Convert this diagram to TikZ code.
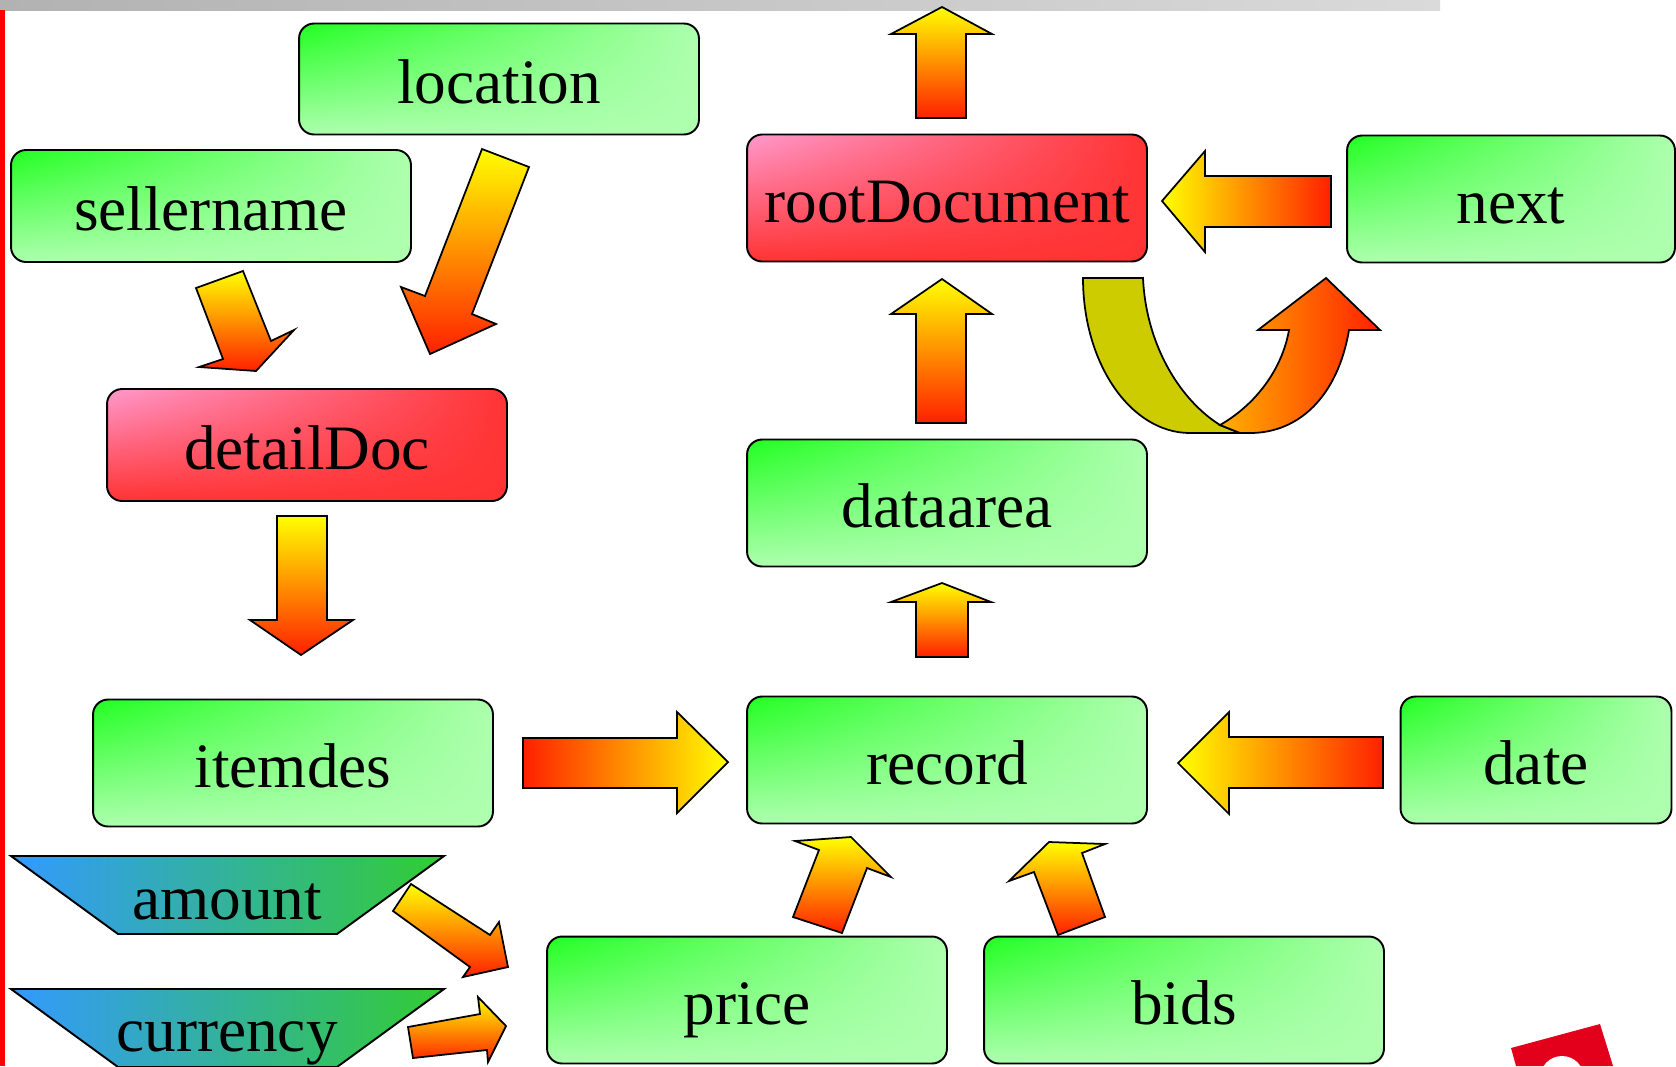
\documentclass[tikz,border=0pt]{standalone}
\usepackage{fontspec}
\setmainfont{Liberation Serif}
\usetikzlibrary{shadings}

\definecolor{boxgreen}{HTML}{22FF22}
\definecolor{palegreen}{HTML}{AEFFAE}
\definecolor{boxpink}{HTML}{FF99CC}
\definecolor{boxred}{HTML}{FF3333}
\definecolor{trapblue}{HTML}{3399FF}
\definecolor{trapgreen}{HTML}{33CC33}
\definecolor{loopolive}{HTML}{CCCC00}
\definecolor{looporange}{HTML}{FFB000}
\definecolor{arrowyellow}{HTML}{FFFF00}
\definecolor{arrowred}{HTML}{FF2000}
\definecolor{bardark}{HTML}{B2B2B2}
\definecolor{barlight}{HTML}{DADADA}
\definecolor{logored}{HTML}{E2001A}

\tikzset{
  field/.style={draw, line width=1.1pt, rounded corners=0.3cm, inner sep=2pt,
    minimum width=8cm, minimum height=2.54cm,
    font=\fontsize{36}{43}\selectfont, text height=28pt, text depth=0pt,
    upper left=boxgreen, upper right=palegreen, lower left=palegreen, lower right=palegreen},
  doc/.style={field, upper left=boxpink, upper right=boxred, lower left=boxred, lower right=boxred},
  param/.style={draw, line width=1.1pt, left color=trapblue, right color=trapgreen},
  paramtext/.style={anchor=base, inner sep=0pt, font=\fontsize{36}{43}\selectfont},
  downarrow/.style={draw, line width=1pt, top color=arrowyellow, bottom color=arrowred},
  rightarrow/.style={draw, line width=1pt, left color=arrowred, right color=arrowyellow},
  leftarrow/.style={draw, line width=1pt, left color=arrowyellow, right color=arrowred}
}

\begin{document}
\begin{tikzpicture}[x=0.02cm, y=-0.02cm]
		\useasboundingbox (0,0) rectangle (1676,1066);
		\clip (0,0) rectangle (1676,1066);

		\fill[left color=bardark, right color=barlight] (0,0) rectangle (1440,10);
		\fill[red] (0,10) rectangle (5,1066);

		\node[field, minimum height=2.22cm] (location) at (499,79) {location};
		\node[field, minimum height=2.24cm] (sellername) at (211,206) {sellername};
		\node[doc, minimum height=2.24cm] (detaildoc) at (307,445) {detailDoc};
		\node[field] (itemdes) at (293,763) {itemdes};
		\node[doc] (rootdoc) at (947,198) {rootDocument};
		\node[field, minimum width=6.56cm] (next) at (1511,199) {next};
		\node[field] (dataarea) at (947,503) {dataarea};
		\node[field] (record) at (947,760) {record};
		\node[field, minimum width=5.42cm] (date) at (1536,760) {date};
		\node[field] (price) at (747,1000) {price};
		\node[field] (bids) at (1184,1000) {bids};

		\draw[param] (11,856) -- (444,856) -- (337,934) -- (118,934) -- cycle;
		\node[paramtext] (amount) at (227,919) {amount};
		\draw[param] (11,989) -- (444,989) -- (337,1067) -- (118,1067) -- cycle;
		\node[paramtext] (currency) at (227,1051) {currency};

		\draw[downarrow] (482,149) -- (529,167) -- (472,314) -- (496,324) -- (430,354) -- (401,287) -- (425,296) -- cycle;
		\draw[downarrow] (196,288) -- (243,271) -- (271,341) -- (294,330) -- (256,371) -- (199,367) -- (223,359) -- cycle;
		\draw[downarrow] (277,516) -- (327,516) -- (327,620) -- (353,620) -- (301,655) -- (250,620) -- (277,620) -- cycle;
		\draw[rightarrow] (523,738) -- (677,738) -- (677,712) -- (728,762) -- (677,813) -- (677,788) -- (523,788) -- cycle;
		\draw[leftarrow] (1383,737) -- (1229,737) -- (1229,712) -- (1178,763) -- (1229,814) -- (1229,788) -- (1383,788) -- cycle;
		\draw[downarrow] (916,657) -- (916,602) -- (891,602) -- (942,583) -- (991,602) -- (968,602) -- (968,657) -- cycle;
		\draw[downarrow] (916,423) -- (916,314) -- (891,314) -- (942,279) -- (992,314) -- (966,314) -- (966,423) -- cycle;
		\draw[downarrow] (916,118) -- (916,34) -- (891,34) -- (942,7) -- (992,34) -- (966,34) -- (966,118) -- cycle;
		\draw[leftarrow] (1331,176) -- (1205,176) -- (1205,151) -- (1162,201) -- (1205,252) -- (1205,227) -- (1331,227) -- cycle;
		\draw[downarrow] (793,917) -- (819,850) -- (795,841) -- (851,837) -- (891,877) -- (867,868) -- (842,933) -- cycle;
		\draw[downarrow] (1058,935) -- (1034,872) -- (1009,881) -- (1049,842) -- (1105,844) -- (1082,853) -- (1105,917) -- cycle;
		\draw[downarrow] (411,884) -- (490,935) -- (499,922) -- (508,967) -- (463,977) -- (470,967) -- (393,911) -- cycle;
		\draw[downarrow] (408,1027) -- (480,1014) -- (478,997) -- (506,1026) -- (488,1062) -- (487,1050) -- (413,1058) -- cycle;

		% loop from rootDocument back to next
		\draw[line width=1pt, fill=loopolive] (1083,278) -- (1143,278)
			.. controls (1146,345) and (1180,400) .. (1220,425) -- (1240,433) -- (1190,433)
			.. controls (1131,433) and (1083,364) .. cycle;
		\draw[line width=1pt, left color=looporange, right color=arrowred] (1220,425)
			.. controls (1255,405) and (1282,370) .. (1289,330) -- (1258,330) -- (1326,278)
			-- (1380,330) -- (1349,330) .. controls (1338,395) and (1300,433) .. (1250,433)
			-- (1240,433) -- cycle;

		\fill[logored] (1511,1048) -- (1600,1024) -- (1613,1066) -- (1516,1066) -- cycle;
		\fill[white] (1562,1078) circle[radius=0.44cm];
	\end{tikzpicture}
\end{document}
